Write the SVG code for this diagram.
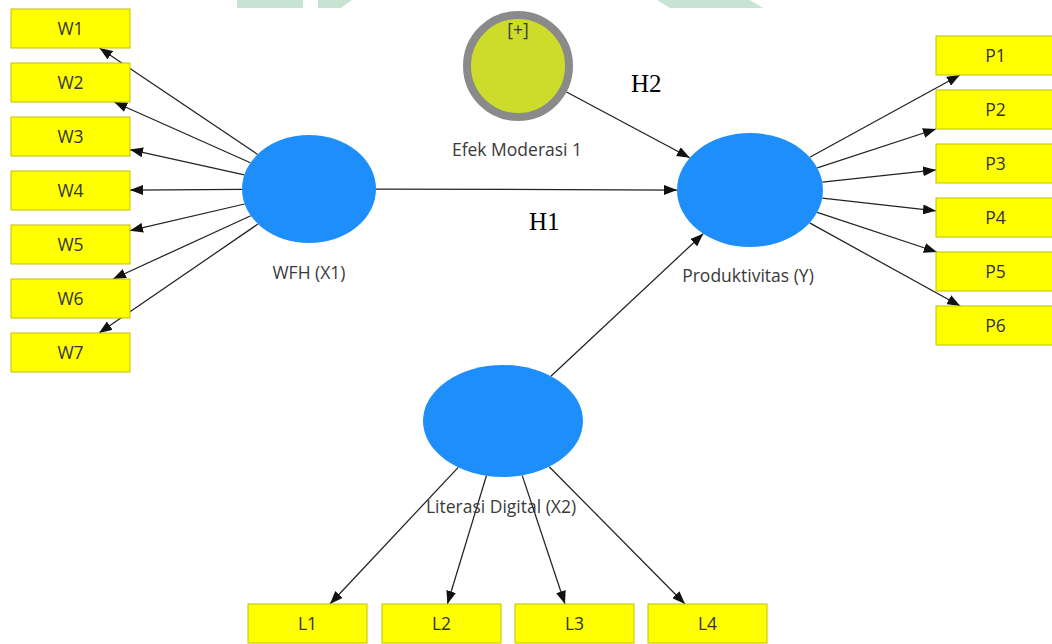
<svg xmlns="http://www.w3.org/2000/svg" width="1052" height="644" viewBox="0 0 1052 644">
  <defs>
    <marker id="arrow" viewBox="0 0 13 10" refX="13" refY="5" markerWidth="13" markerHeight="10" markerUnits="userSpaceOnUse" orient="auto">
      <path d="M0,0 L13,5 L0,10 z" fill="#111"/>
    </marker>
    <style>
      .ind { fill: #ffff00; stroke: #c2c200; stroke-width: 1; }
      .ind-text { font-family: "Open Sans", "Noto Sans", sans-serif; font-size: 17.5px; fill: #333; text-anchor: middle; }
      .lv { fill: #1e8ffa; }
      .lv-text { font-family: "Open Sans", "Noto Sans", sans-serif; font-size: 17.5px; fill: #3a3a3a; text-anchor: middle; }
      .hyp { font-family: "Liberation Serif", "Times New Roman", serif; font-size: 25px; fill: #000; }
      .edge { stroke: #222; stroke-width: 1.25; fill: none; marker-end: url(#arrow); }
      .mark { fill: #c6e4d1; }
    </style>
  </defs>

  <rect width="1052" height="644" fill="#ffffff"/>

  <!-- faint background mark along the top edge -->
  <g id="background-mark">
    <rect class="mark" x="237" y="0" width="66" height="8"/>
    <polygon class="mark" points="318,0 352,0 341,8 318,8"/>
    <polygon class="mark" points="657,0 750,0 763,8 670,8"/>
  </g>

  <!-- connectors -->
  <g id="connectors">
    <!-- WFH (X1) to indicators -->
    <line class="edge" x1="257.6" y1="154.4" x2="99.5" y2="48"/>
    <line class="edge" x1="250.4" y1="162.8" x2="114.2" y2="102"/>
    <line class="edge" x1="244.4" y1="174.8" x2="130" y2="149.6"/>
    <line class="edge" x1="242" y1="189.4" x2="130" y2="190.1"/>
    <line class="edge" x1="244.6" y1="204" x2="130" y2="230.7"/>
    <line class="edge" x1="250.8" y1="215.7" x2="113" y2="279"/>
    <line class="edge" x1="258" y1="224" x2="99" y2="333"/>
    <!-- Produktivitas (Y) to indicators -->
    <line class="edge" x1="809.8" y1="157.3" x2="959.9" y2="75"/>
    <line class="edge" x1="817.3" y1="167.9" x2="936" y2="129"/>
    <line class="edge" x1="822.3" y1="182.2" x2="936" y2="169.9"/>
    <line class="edge" x1="822.3" y1="198.1" x2="936" y2="210.8"/>
    <line class="edge" x1="817.2" y1="212.3" x2="936.8" y2="252"/>
    <line class="edge" x1="809.6" y1="222.9" x2="960.2" y2="306"/>
    <!-- Literasi Digital (X2) to indicators -->
    <line class="edge" x1="458.2" y1="467.4" x2="330" y2="604"/>
    <line class="edge" x1="486.4" y1="475.8" x2="447.4" y2="604"/>
    <line class="edge" x1="522.2" y1="475.4" x2="565" y2="604"/>
    <line class="edge" x1="549.2" y1="466.7" x2="685" y2="604"/>
    <!-- structural paths -->
    <line class="edge" x1="376" y1="189" x2="677" y2="190"/>
    <line class="edge" x1="566.5" y1="92" x2="689.8" y2="157.8"/>
    <line class="edge" x1="550.9" y1="376.2" x2="703.2" y2="233.8"/>
  </g>

  <!-- hypothesis labels -->
  <text class="hyp" x="631" y="92">H2</text>
  <text class="hyp" x="529" y="230">H1</text>

  <!-- WFH indicators -->
  <g id="W1"><rect class="ind" x="11" y="9" width="119" height="39"/><text class="ind-text" x="70.5" y="35">W1</text></g>
  <g id="W2"><rect class="ind" x="11" y="63" width="119" height="39"/><text class="ind-text" x="70.5" y="89">W2</text></g>
  <g id="W3"><rect class="ind" x="11" y="117" width="119" height="39"/><text class="ind-text" x="70.5" y="143">W3</text></g>
  <g id="W4"><rect class="ind" x="11" y="171" width="119" height="39"/><text class="ind-text" x="70.5" y="197">W4</text></g>
  <g id="W5"><rect class="ind" x="11" y="225" width="119" height="39"/><text class="ind-text" x="70.5" y="251">W5</text></g>
  <g id="W6"><rect class="ind" x="11" y="279" width="119" height="39"/><text class="ind-text" x="70.5" y="305">W6</text></g>
  <g id="W7"><rect class="ind" x="11" y="333" width="119" height="39"/><text class="ind-text" x="70.5" y="359">W7</text></g>

  <!-- Produktivitas indicators -->
  <g id="P1"><rect class="ind" x="936" y="36" width="119" height="39"/><text class="ind-text" x="995.5" y="62">P1</text></g>
  <g id="P2"><rect class="ind" x="936" y="90" width="119" height="39"/><text class="ind-text" x="995.5" y="116">P2</text></g>
  <g id="P3"><rect class="ind" x="936" y="144" width="119" height="39"/><text class="ind-text" x="995.5" y="170">P3</text></g>
  <g id="P4"><rect class="ind" x="936" y="198" width="119" height="39"/><text class="ind-text" x="995.5" y="224">P4</text></g>
  <g id="P5"><rect class="ind" x="936" y="252" width="119" height="39"/><text class="ind-text" x="995.5" y="278">P5</text></g>
  <g id="P6"><rect class="ind" x="936" y="306" width="119" height="39"/><text class="ind-text" x="995.5" y="332">P6</text></g>

  <!-- Literasi Digital indicators -->
  <g id="L1"><rect class="ind" x="248" y="604" width="119" height="39"/><text class="ind-text" x="307.5" y="630">L1</text></g>
  <g id="L2"><rect class="ind" x="382" y="604" width="119" height="39"/><text class="ind-text" x="441.5" y="630">L2</text></g>
  <g id="L3"><rect class="ind" x="515" y="604" width="119" height="39"/><text class="ind-text" x="574.5" y="630">L3</text></g>
  <g id="L4"><rect class="ind" x="648" y="604" width="119" height="39"/><text class="ind-text" x="707.5" y="630">L4</text></g>

  <!-- latent variables -->
  <g id="WFH">
    <ellipse class="lv" cx="309" cy="189" rx="67" ry="54"/>
    <text class="lv-text" x="309" y="279">WFH (X1)</text>
  </g>
  <g id="Produktivitas">
    <ellipse class="lv" cx="750" cy="190" rx="73" ry="57"/>
    <text class="lv-text" x="748" y="282">Produktivitas (Y)</text>
  </g>
  <g id="LiterasiDigital">
    <ellipse class="lv" cx="503" cy="421" rx="80" ry="56"/>
    <text class="lv-text" x="501" y="513">Literasi Digital (X2)</text>
  </g>
  <g id="EfekModerasi">
    <circle cx="518" cy="66" r="51" fill="#cddc2a" stroke="#8a8a8a" stroke-width="8"/>
    <text class="lv-text" x="518" y="36" font-size="15">[+]</text>
    <text class="lv-text" x="517" y="156">Efek Moderasi 1</text>
  </g>
</svg>
